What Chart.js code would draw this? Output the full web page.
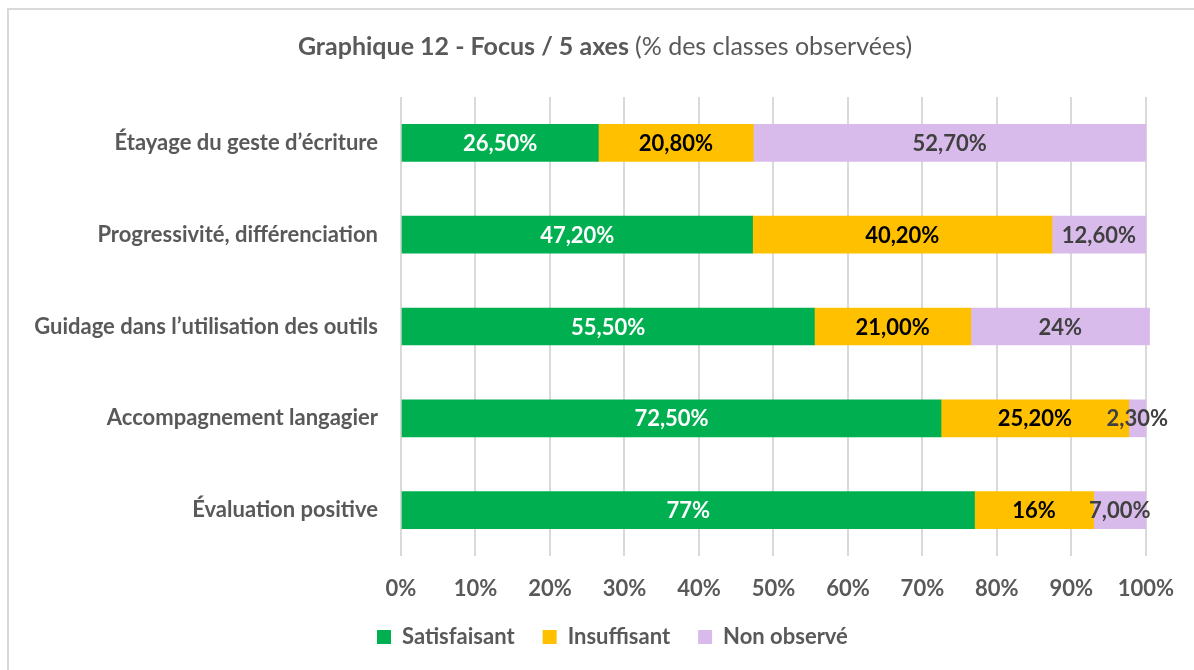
<!DOCTYPE html>
<html>
<head>
<meta charset="utf-8">
<script src="https://cdn.jsdelivr.net/npm/chart.js@4/dist/chart.umd.min.js"></script>
<style>
  html, body { margin: 0; padding: 0; background: #fff; }
  #wrap { position: relative; width: 1194px; height: 670px; overflow: hidden; }
  #frame { position: absolute; left: 7px; top: 8px; right: -10px; bottom: -10px;
           border-top: 2px solid #d9d9d9; border-left: 2px solid #d9d9d9; }
  canvas { position: absolute; left: 0; top: 0; }
</style>
</head>
<body>
<div id="wrap">
  <div id="frame"></div>
  <canvas id="chart" width="1194" height="670"></canvas>
</div>
<script>
const categories = [
  "Étayage du geste d’écriture",
  "Progressivité, différenciation",
  "Guidage dans l’utilisation des outils",
  "Accompagnement langagier",
  "Évaluation positive"
];
const satisfaisant = [26.5, 47.2, 55.5, 72.5, 77];
const insuffisant = [20.8, 40.2, 21, 25.2, 16];
const nonObserve = [52.7, 12.6, 24, 2.3, 7];
const satisfaisantLabels = ["26,50%", "47,20%", "55,50%", "72,50%", "77%"];
const insuffisantLabels = ["20,80%", "40,20%", "21,00%", "25,20%", "16%"];
const nonObserveLabels = ["52,70%", "12,60%", "24%", "2,30%", "7,00%"];
const xTicks = [0, 10, 20, 30, 40, 50, 60, 70, 80, 90, 100];

const FONT = "Lato, 'DejaVu Sans', sans-serif";
const GREY = "#595959";

// titre en deux parties (gras + normal)
const titlePlugin = {
  id: "titre",
  afterDraw(chart) {
    const ctx = chart.ctx;
    const bold = "Graphique 12 - Focus / 5 axes ";
    const normal = "(% des classes observées)";
    ctx.save();
    ctx.textBaseline = "middle";
    ctx.fillStyle = GREY;
    ctx.font = "bold 25px " + FONT;
    const w1 = ctx.measureText(bold).width;
    ctx.font = "25px " + FONT;
    const w2 = ctx.measureText(normal).width;
    let x = 605 - (w1 + w2) / 2;
    ctx.font = "bold 25px " + FONT;
    ctx.fillText(bold, x, 47);
    ctx.font = "25px " + FONT;
    ctx.fillText(normal, x + w1, 47);
    ctx.restore();
  }
};

// étiquettes de valeurs au centre des barres
const valueLabels = [satisfaisantLabels, insuffisantLabels, nonObserveLabels];
const labelColors = ["#ffffff", "#000000", "#404040"];
const labelPlugin = {
  id: "valeurs",
  afterDatasetsDraw(chart) {
    const ctx = chart.ctx;
    ctx.save();
    ctx.font = "bold 22px " + FONT;
    ctx.textAlign = "center";
    ctx.textBaseline = "middle";
    chart.data.datasets.forEach((ds, i) => {
      chart.getDatasetMeta(i).data.forEach((bar, j) => {
        ctx.fillStyle = labelColors[i];
        ctx.fillText(valueLabels[i][j], (bar.x + bar.base) / 2, bar.y + 1);
      });
    });
    ctx.restore();
  }
};

// décale la légende comme dans l'original
const legendShift = {
  id: "legendShift",
  afterLayout(chart) {
    const lg = chart.legend;
    lg.left = 349;
    lg.top += 2;
    lg.bottom += 2;
  }
};

new Chart(document.getElementById("chart"), {
  type: "bar",
  data: {
    labels: categories,
    datasets: [
      { label: "Satisfaisant", data: satisfaisant, backgroundColor: "#00B050" },
      { label: "Insuffisant", data: insuffisant, backgroundColor: "#FFC000" },
      { label: "Non observé", data: nonObserve, backgroundColor: "#D9BBEB" }
    ]
  },
  options: {
    indexAxis: "y",
    responsive: false,
    animation: false,
    layout: { padding: { top: 97, right: 47, bottom: 14, left: 0 } },
    datasets: { bar: { barThickness: 37, clip: false } },
    scales: {
      x: {
        stacked: true,
        min: 0,
        max: 100,
        afterBuildTicks: (s) => { s.ticks = xTicks.map(v => ({ value: v })); },
        afterFit: (s) => { s.height = 40; },
        grid: { color: "#d9d9d9", lineWidth: 2, drawTicks: false },
        border: { display: false },
        ticks: {
          padding: 20,
          color: GREY,
          font: { family: FONT, size: 22, weight: "bold" },
          callback: (v) => v + "%"
        }
      },
      y: {
        stacked: true,
        afterFit: (s) => { s.width = 401; },
        grid: { display: false, drawTicks: false },
        border: { display: false },
        ticks: {
          padding: 23,
          color: GREY,
          font: { family: FONT, size: 22, weight: "bold" }
        }
      }
    },
    plugins: {
      title: { display: false },
      tooltip: { enabled: false },
      legend: {
        position: "bottom",
        align: "start",
        labels: {
          boxWidth: 14,
          boxHeight: 14,
          padding: 28,
          color: GREY,
          font: { family: FONT, size: 22, weight: "bold" }
        }
      }
    }
  },
  plugins: [titlePlugin, labelPlugin, legendShift]
});
</script>
</body>
</html>
